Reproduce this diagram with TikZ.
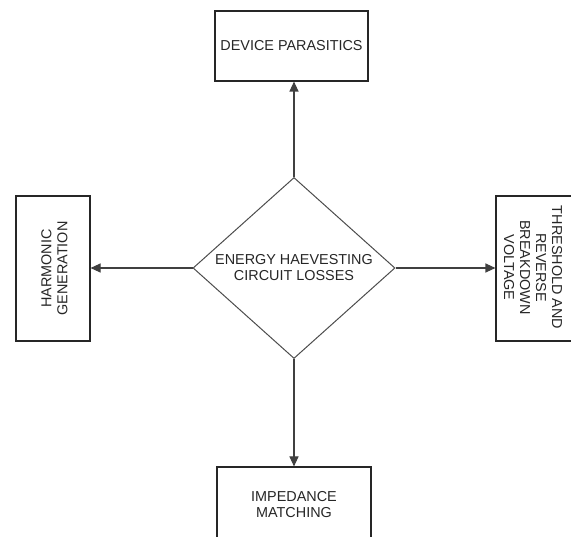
\documentclass[tikz,border=0pt]{standalone}
\usepackage{fontspec}
\setmainfont{Liberation Sans}
\usetikzlibrary{shapes.geometric,arrows.meta}
\begin{document}
\begin{tikzpicture}[x=1pt,y=-1pt,
  every node/.style={font=\fontsize{14.4}{16}\selectfont, text=black!85, align=center},
  boxnode/.style={draw=black!85, line width=1.1pt, inner sep=0pt},
  conn/.style={draw=black!75, line width=1.1pt, -{Triangle[length=10pt,width=9pt]}}]
\useasboundingbox (0,0) rectangle (571,537);
\begin{scope}
\clip (0,0) rectangle (571,537);
\node[diamond, draw=black!70, line width=1pt, inner sep=0pt, aspect=1.116,
      minimum width=202pt, minimum height=181pt] (hub) at (294,268)
      {ENERGY HAEVESTING\\CIRCUIT LOSSES};
\node[boxnode, minimum width=153pt, minimum height=70pt] (dev) at (291.5,46) {DEVICE PARASITICS};
\node[boxnode, minimum width=74pt, minimum height=145pt] (harm) at (53,268.5) {};
\node[rotate=90] (harmtxt) at (54.5,268.5) {HARMONIC\\GENERATION};
\node[boxnode, minimum width=80pt, minimum height=145pt] (thr) at (536,268.5) {};
\node[rotate=-90] (thrtxt) at (533,267.5) {THRESHOLD AND\\REVERSE\\BREAKDOWN\\VOLTAGE};
\node[boxnode, minimum width=154pt, minimum height=80pt] (imp) at (294,507) {};
\node (imptxt) at (294,504.5) {IMPEDANCE\\MATCHING};
\draw[conn] (hub.north) -- (hub.north |- dev.south);
\draw[conn] (hub.west) -- (hub.west -| harm.east);
\draw[conn] (hub.east) -- (hub.east -| thr.west);
\draw[conn] (hub.south) -- (hub.south |- imp.north);
\end{scope}
\end{tikzpicture}
\end{document}
